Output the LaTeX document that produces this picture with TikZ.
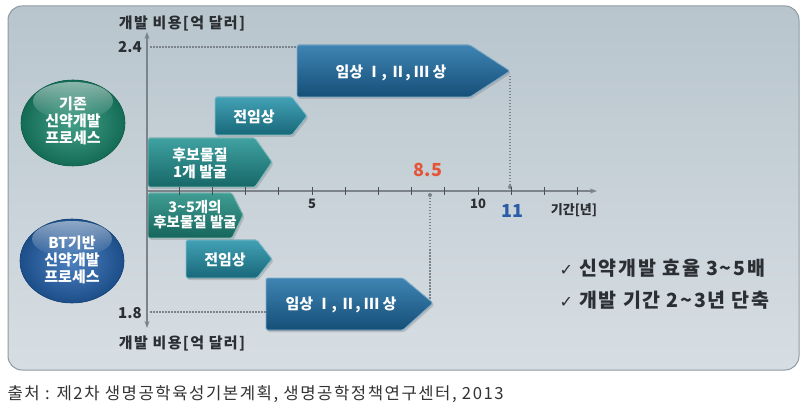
\documentclass[tikz,border=0pt]{standalone}
\usepackage{fontspec}
\setmainfont{Noto Sans CJK KR}
\newfontfamily\widefont{Noto Sans CJK KR}[LetterSpace=9]
\newfontfamily\symfont{DejaVu Sans}
\usetikzlibrary{arrows.meta,shadows,fadings}

\definecolor{panelhi}{HTML}{B8C5CD}
\definecolor{panelmid}{HTML}{E3E9ED}
\definecolor{panello}{HTML}{D7DEE3}
\definecolor{panelrim}{HTML}{8E9AA2}
\definecolor{axisgray}{HTML}{7C848B}
\definecolor{tickgray}{HTML}{4A4F54}
\definecolor{candteal}{HTML}{1F9090}
\definecolor{candgreen}{HTML}{1E8C80}
\definecolor{preteal}{HTML}{2190A8}
\definecolor{clinblue}{HTML}{1D6EA6}
\definecolor{oldgreen}{HTML}{1A8A6E}
\definecolor{btblue}{HTML}{2464B0}
\definecolor{redval}{HTML}{E4553A}
\definecolor{blueval}{HTML}{2A5CA8}
\definecolor{inktext}{HTML}{2B2F33}

\tikzset{
  stage/.style={rounded corners=1.5pt, draw=white!45!#1, line width=0.8pt,
    top color=white!15!#1, bottom color=black!28!#1,
    drop shadow={opacity=0.35, shadow xshift=1.5pt, shadow yshift=-2pt}},
  stagetext/.style={text=white, font=\fontsize{15}{17}\selectfont\bfseries, align=center},
  bubble/.style={draw=black!30!#1, line width=0.6pt, inner color=white!18!#1, outer color=black!22!#1},
  bubbletext/.style={text=white, font=\fontsize{15}{17}\selectfont\bfseries, align=center},
  axisline/.style={axisgray, line width=1.1pt},
  axistick/.style={tickgray, line width=1pt},
  guide/.style={axisgray, line width=1.5pt, dash pattern=on 1.5pt off 1.5pt},
  axistitle/.style={text=inktext, font=\widefont\fontsize{15}{17}\selectfont\bfseries},
  costvalue/.style={text=inktext, font=\fontsize{15}{17}\selectfont\bfseries},
  ticklabel/.style={text=inktext, font=\fontsize{13}{15}\selectfont\bfseries},
  remark/.style={text=inktext, font=\widefont\fontsize{19.5}{21}\selectfont\bfseries, anchor=west}
}

\begin{document}
\begin{tikzpicture}[x=1pt, y=-1pt]
  \useasboundingbox (0,0) rectangle (806,414);
  \fill[white] (0,0) rectangle (806,414);

  % panel
  \draw[panelrim, line width=1pt, rounded corners=14pt, top color=panelhi, middle color=panelmid, bottom color=panello]
    (8,6) rectangle (799,370);

  % process bubbles
  \fill[bubble=oldgreen] (73,123) ellipse [x radius=52, y radius=43];
  \fill[white, path fading=south, fill opacity=0.5] (73,101) ellipse [x radius=40, y radius=19];
  \node[bubbletext] (oldproc) at (73,121) {기존\\신약개발\\프로세스};

  \fill[bubble=btblue] (72,261) ellipse [x radius=52, y radius=42];
  \fill[white, path fading=south, fill opacity=0.5] (72,239) ellipse [x radius=40, y radius=18];
  \node[bubbletext] (btproc) at (72,260) {BT기반\\신약개발\\프로세스};

  % existing process stages
  \fill[stage=clinblue] (297,45) -- (470,45) -- (510,71) -- (470,97) -- (297,97) -- cycle;
  \node[stagetext] (clinold) at (391,73) {임상 Ⅰ, Ⅱ, Ⅲ 상};

  \fill[stage=preteal] (215,97) -- (292,97) -- (307,116) -- (292,135) -- (215,135) -- cycle;
  \node[stagetext] (preold) at (254,117) {전임상};

  \fill[stage=candteal] (148,138) -- (255,138) -- (272,162) -- (255,187) -- (148,187) -- cycle;
  \node[stagetext] (candold) at (200,163) {후보물질\\1개 발굴};

  % BT process stages
  \fill[stage=candgreen] (148,193) -- (232,193) -- (243,215) -- (232,238) -- (148,238) -- cycle;
  \node[stagetext, font=\fontsize{14.5}{15}\selectfont\bfseries] (candbt) at (195,215) {3\textasciitilde5개의\\후보물질 발굴};

  \fill[stage=preteal] (186,240) -- (257,240) -- (272,259) -- (257,278) -- (186,278) -- cycle;
  \node[stagetext] (prebt) at (225,260) {전임상};

  \fill[stage=clinblue] (266,278) -- (403,278) -- (433,303) -- (403,330) -- (266,330) -- cycle;
  \node[stagetext] (clinbt) at (341,305) {임상 Ⅰ, Ⅱ, Ⅲ 상};

  % guides
  \draw[guide] (150,47) -- (297,47);
  \draw[guide] (150,312) -- (266,312);
  \draw[guide] (510,76) -- (510,187);
  \fill[axisgray] (510,187) circle (2);
  \draw[guide] (430,195) -- (430,300);
  \fill[axisgray] (430,195) circle (2);

  % axes
  \coordinate (orig) at (147,191);
  \coordinate (timeend) at (597,191);
  \coordinate (costtop) at (147,32);
  \coordinate (costbot) at (147,328);
  \draw[axisline, -{Stealth[length=7pt,width=5pt]}] (orig) -- (timeend);
  \draw[axisline, {Stealth[length=7pt,width=5pt]}-{Stealth[length=7pt,width=5pt]}] (costtop) -- (costbot);
  \foreach \k in {1,...,13}
    \draw[axistick] ({146+33.2*\k},187) -- ++(0,8);

  \node[axistitle] (costup) at (182,23) {개발 비용[억 달러]};
  \node[axistitle] (costdown) at (182,343) {개발 비용[억 달러]};
  \node[costvalue] (costhi) at (130,47) {2.4};
  \node[costvalue] (costlo) at (130,313) {1.8};
  \node[ticklabel] (tickfive) at (312,204) {5};
  \node[ticklabel] (tickten) at (478,204) {10};
  \node[ticklabel] (timetitle) at (574,210) {기간[년]};
  \node[text=redval, font=\fontsize{18}{20}\selectfont\bfseries] (markbt) at (428,170) {8.5};
  \node[text=blueval, font=\fontsize{18}{20}\selectfont\bfseries] (markold) at (512,211) {11};

  % remarks
  \node[remark] (gaineff) at (556,268) {{\symfont\fontsize{16}{16}\selectfont ✓} 신약개발 효율 3\textasciitilde5배};
  \node[remark] (gaintime) at (556,300) {{\symfont\fontsize{16}{16}\selectfont ✓} 개발 기간 2\textasciitilde3년 단축};

  % source
  \node[anchor=west, text=black!80, font=\widefont\fontsize{16.7}{18}\selectfont] (source) at (4,394)
    {출처 : 제2차 생명공학육성기본계획, 생명공학정책연구센터, 2013};
\end{tikzpicture}
\end{document}
